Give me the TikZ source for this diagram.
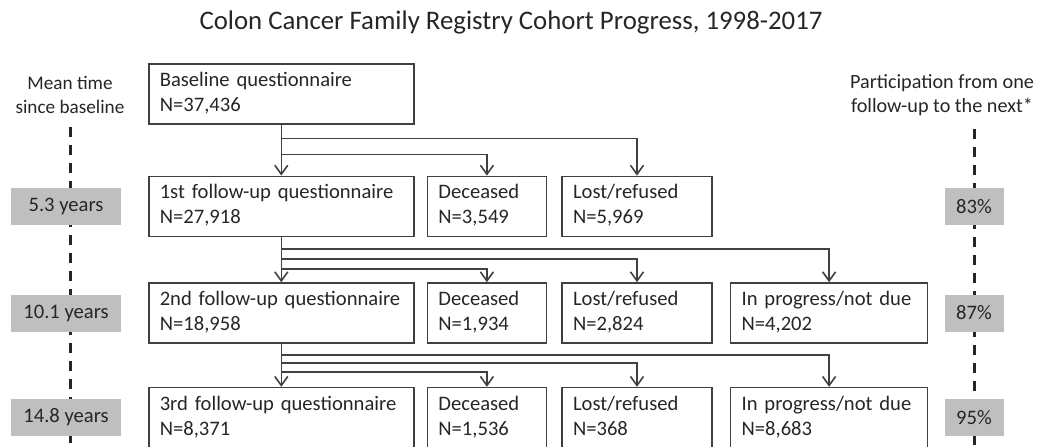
\documentclass[tikz,border=0pt]{standalone}
\usepackage{fontspec}
\setmainfont{Carlito}
\usepackage{tikz}
\usetikzlibrary{arrows.meta,positioning,backgrounds}

\definecolor{edge}{HTML}{404040}
\definecolor{ink}{HTML}{262626}
\definecolor{shade}{HTML}{BFBFBF}

\begin{document}
\begin{tikzpicture}[font=\fontsize{10.3}{12.5}\selectfont,text=ink,
  box/.style={draw=edge,line width=0.8pt,align=left,text width=#1,inner xsep=5.5pt,inner ysep=2.5pt,minimum height=30pt,
    execute at begin node=\strut,execute at end node=\strut},
  tag/.style={fill=shade,minimum height=18.5pt,inner sep=0pt},
  head/.style={align=center,font=\fontsize{#1}{12.2}\selectfont},
  arr/.style={-{Straight Barb[length=4.5pt,width=6.5pt]},line width=0.8pt,draw=edge},
  dline/.style={draw=ink,line width=1.5pt,dash pattern=on 5pt off 4pt}]
\useasboundingbox (0,0) rectangle (519.5pt,-223pt);
% title
\node[font=\fontsize{13.4}{15}\selectfont] (title) at (255.5pt,-11pt) {Colon Cancer Family Registry Cohort Progress, 1998-2017};
% questionnaires
\node[box=121.5pt,anchor=north west] (b0) at (74pt,-31.5pt) {Baseline questionnaire\\N=37,436};
\node[box=121.5pt,below=25.5pt of b0] (b1) {1st follow-up questionnaire\\N=27,918};
\node[box=121.5pt,below=22.5pt of b1] (b2) {2nd follow-up questionnaire\\N=18,958};
\node[box=121.5pt,below=21.5pt of b2] (b3) {3rd follow-up questionnaire\\N=8,371};
% outcomes
\node[box=48.5pt,right=6pt of b1] (d1) {Deceased\\N=3,549};
\node[box=64pt,right=7pt of d1] (l1) {Lost/refused\\N=5,969};
\node[box=48.5pt,right=6pt of b2] (d2) {Deceased\\N=1,934};
\node[box=64pt,right=7pt of d2] (l2) {Lost/refused\\N=2,824};
\node[box=87.5pt,right=8.5pt of l2] (p2) {In progress/not due\\N=4,202};
\node[box=48.5pt,right=6pt of b3] (d3) {Deceased\\N=1,536};
\node[box=64pt,right=7pt of d3] (l3) {Lost/refused\\N=368};
\node[box=87.5pt,right=8.5pt of l3] (p3) {In progress/not due\\N=8,683};
% side columns
\node[head=9.6] (mt) at (35pt,-47.5pt) {Mean time\\since baseline};
\node[head=10.1] (pt) at (471pt,-47.5pt) {Participation from one\\follow-up to the next*};
\coordinate (bot) at (0,-224pt);
\coordinate (rc) at (487pt,0);
\node[tag,minimum width=55pt] (y1) at ([xshift=-2pt]b1 -| mt) {5.3 years};
\node[tag,minimum width=55pt] (y2) at ([xshift=-2pt]b2 -| mt) {10.1 years};
\node[tag,minimum width=55pt] (y3) at ([xshift=-2pt]b3 -| mt) {14.8 years};
\node[tag,minimum width=29.5pt] (r1) at (b1 -| rc) {83\%};
\node[tag,minimum width=29.5pt] (r2) at (b2 -| rc) {87\%};
\node[tag,minimum width=29.5pt] (r3) at (b3 -| rc) {95\%};
\begin{scope}[on background layer]
\draw[dline] ([yshift=-3pt]mt.south) -- (mt.south |- bot);
\draw[dline] ([yshift=-3pt]pt.south -| rc) -- (rc |- bot);
\end{scope}
% flow
\draw[arr] (b0) -- (b1);
\draw[arr] (b0.south) -- ++(0,-7pt) -| (l1.north);
\draw[arr] (b0.south) -- ++(0,-15pt) -| (d1.north);
\draw[arr] (b1) -- (b2);
\draw[arr] (b1.south) -- ++(0,-6pt) -| (p2.north);
\draw[arr] (b1.south) -- ++(0,-11pt) -| (l2.north);
\draw[arr] (b1.south) -- ++(0,-16pt) -| (d2.north);
\draw[arr] (b2) -- (b3);
\draw[arr] (b2.south) -- ++(0,-5.5pt) -| (p3.north);
\draw[arr] (b2.south) -- ++(0,-9.5pt) -| (l3.north);
\draw[arr] (b2.south) -- ++(0,-14pt) -| (d3.north);
\end{tikzpicture}
\end{document}
